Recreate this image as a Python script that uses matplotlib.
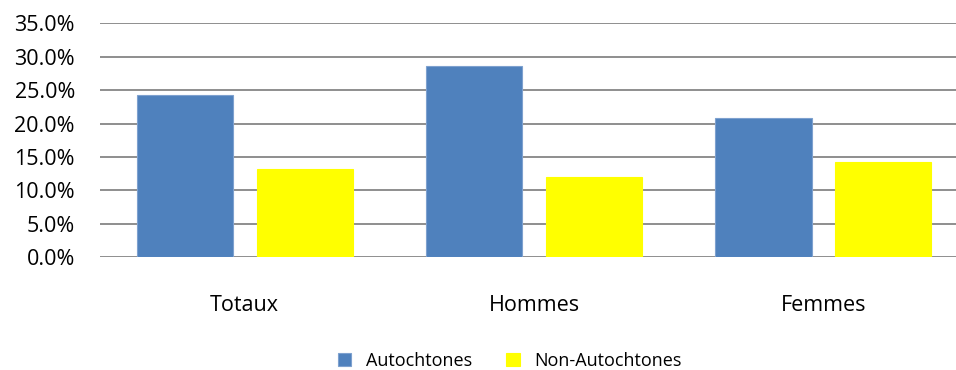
import matplotlib.pyplot as plt
import numpy as np
from matplotlib.ticker import PercentFormatter

# Data
categories = ["Totaux", "Hommes", "Femmes"]
autochtones = [24.3, 28.6, 20.8]
non_autochtones = [13.2, 12.0, 14.25]
series_names = ["Autochtones", "Non-Autochtones"]
y_ticks = [0, 5, 10, 15, 20, 25, 30, 35]

plt.rcParams['font.family'] = ['Open Sans', 'DejaVu Sans']

fig = plt.figure(figsize=(9.56, 3.70), dpi=100)
ax = fig.add_axes([0.1046, 0.3046, 0.908, 0.632])

x = np.arange(len(categories))
w = 0.332
off = 0.207
ax.bar(x - off, autochtones, w, color='#4F81BD', edgecolor='#7EA1CF', linewidth=0.8,
       label=series_names[0], zorder=3)
ax.bar(x + off, non_autochtones, w, color='#FFFF00', edgecolor='#FFFF00', linewidth=0.8,
       label=series_names[1], zorder=3)

ax.set_xlim(-0.5, 2.5)
ax.set_ylim(0, 35)
ax.set_yticks(y_ticks)
ax.yaxis.set_major_formatter(PercentFormatter(decimals=1))
ax.yaxis.grid(True, color='#868686', linewidth=1.3, zorder=0)
ax.set_xticks(x)
ax.set_xticklabels(categories)
ax.tick_params(axis='both', length=0, labelsize=15.5, colors='black')
ax.tick_params(axis='x', pad=27)
ax.tick_params(axis='y', pad=18)
for s in ax.spines.values():
    s.set_visible(False)

fig.legend(loc='center', bbox_to_anchor=(0.533, 0.024), ncol=2, frameon=False,
           fontsize=13, handlelength=0.75, handleheight=0.75, columnspacing=1.9,
           handletextpad=0.8)

fig.savefig('out.png', dpi=100)
